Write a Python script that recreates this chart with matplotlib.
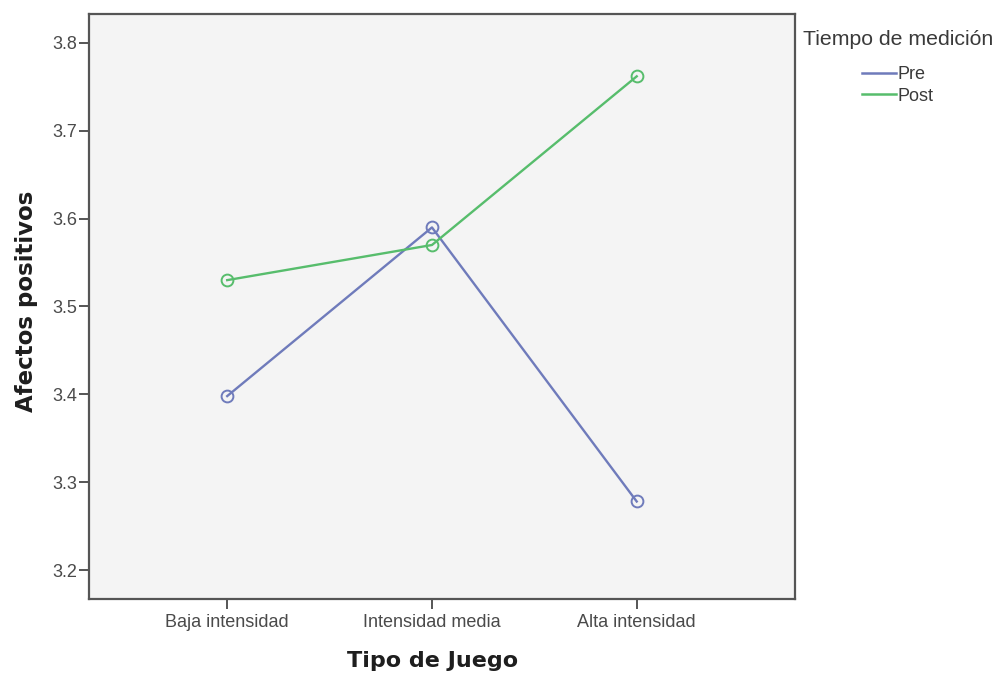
import matplotlib.pyplot as plt
from matplotlib.lines import Line2D

plt.rcParams["font.family"] = ["Liberation Sans", "DejaVu Sans"]

categories = ["Baja intensidad", "Intensidad media", "Alta intensidad"]
pre = [3.398, 3.590, 3.278]
post = [3.530, 3.570, 3.762]
y_ticks = [3.2, 3.3, 3.4, 3.5, 3.6, 3.7, 3.8]

pre_color = "#6f7bbb"
post_color = "#57bd6c"

fig = plt.figure(figsize=(10.01, 6.75), dpi=100)
ax = fig.add_axes([0.0889, 0.1126, 0.7053, 0.8667])
ax.set_facecolor("#f4f4f4")

x = range(len(categories))
ax.plot(x, pre, color=pre_color, linewidth=1.7, marker="o", markersize=8.5,
        markerfacecolor="none", markeredgecolor=pre_color, markeredgewidth=1.4)
ax.plot(x, post, color=post_color, linewidth=1.7, marker="o", markersize=8.5,
        markerfacecolor="none", markeredgecolor=post_color, markeredgewidth=1.4)

ax.set_xlim(-0.675, 2.773)
ax.set_ylim(3.167, 3.833)
ax.set_xticks(list(x))
ax.set_xticklabels(categories)
ax.set_yticks(y_ticks)
ax.set_yticklabels([f"{v:.1f}" for v in y_ticks])
ax.tick_params(axis="both", direction="out", length=7, width=1.4, color="#555555",
               labelsize=13, labelcolor="#4a4a4a")
ax.tick_params(axis="y", pad=1.5)
ax.tick_params(axis="x", pad=4)

for side in ["top", "right", "bottom", "left"]:
    ax.spines[side].set_color("#555555")
    ax.spines[side].set_linewidth(1.6)

ax.set_xlabel("Tipo de Juego", fontsize=16, fontweight="bold", color="#1e1e1e",
              family="DejaVu Sans", labelpad=14)
ax.xaxis.label.set_x(0.487)
ax.set_ylabel("Afectos positivos", fontsize=16.5, fontweight="bold", color="#1e1e1e",
              family="DejaVu Sans", labelpad=10)
ax.yaxis.label.set_y(0.508)

# legend: title as plain text, entries below
fig.text(0.8975, 0.942, "Tiempo de medición", fontsize=15.3, color="#3a3a3a",
         ha="center", va="center")
handles = [Line2D([0], [0], color=pre_color, linewidth=1.8),
           Line2D([0], [0], color=post_color, linewidth=1.8)]
leg = fig.legend(handles, ["Pre", "Post"], loc="upper left",
                 bbox_to_anchor=(0.861, 0.902), frameon=False,
                 fontsize=13, handlelength=1.9, handletextpad=0.05,
                 labelspacing=0.25, borderaxespad=0, borderpad=0)
for t in leg.get_texts():
    t.set_color("#3a3a3a")

fig.savefig("out.png", dpi=100)
